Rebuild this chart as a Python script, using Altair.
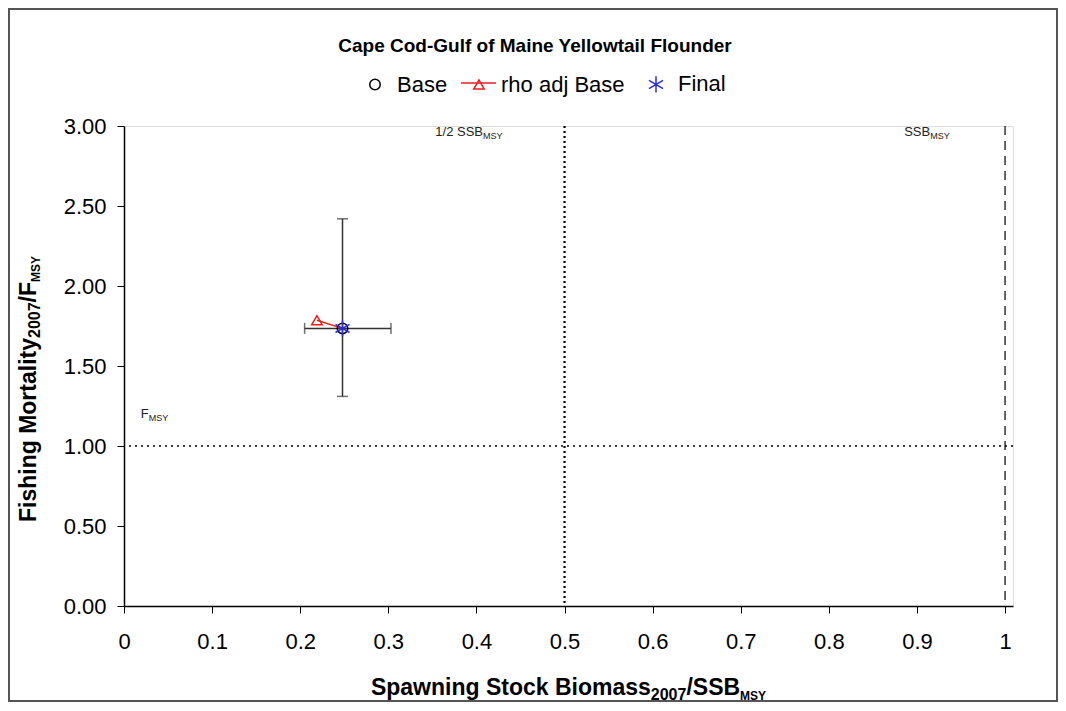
import altair as alt
import pandas as pd

FONT = "Liberation Sans"

# ---------------- data ----------------
TITLE = "Cape Cod-Gulf of Maine Yellowtail Flounder"
series = ["Base", "rho adj Base", "Final"]
pt_x = [0.248, 0.219, 0.248]
pt_y = [1.735, 1.786, 1.735]
colors = ["#000000", "#ee1c1c", "#2a2ae0"]
ASTERISK = "M0,-1.55L0,1.55M-1.34,-0.78L1.34,0.78M-1.34,0.78L1.34,-0.78"
shapes = ["circle", "triangle-up", ASTERISK]

rho_line_x = [0.219, 0.248]
rho_line_y = [1.786, 1.735]

err_x_lo, err_x_hi = 0.205, 0.303     # SSB ratio interval
err_y_lo, err_y_hi = 1.31, 2.42       # F ratio interval

half_ssb_msy = 0.5
ssb_msy = 1.0
f_msy = 1.0

x_ticks = [0, 0.1, 0.2, 0.3, 0.4, 0.5, 0.6, 0.7, 0.8, 0.9, 1.0]
y_ticks = [0.0, 0.5, 1.0, 1.5, 2.0, 2.5, 3.0]

ref_main = ["1/2 SSB", "SSB", "F"]
ref_sub = ["MSY", "MSY", "MSY"]
ref_x = [0.4075, 0.915, 0.028]
ref_y = [2.94, 2.94, 1.175]

x_title = ["Spawning Stock Biomass", "2007", "/SSB", "MSY"]
y_title = ["Fishing Mortality", "2007", "/F", "MSY"]

# ---------------- layout ----------------
W, H = 889, 480
xs = alt.Scale(domain=[0, 1.009], nice=False, zero=False)
ys = alt.Scale(domain=[0, 3], nice=False, zero=False)

pts = pd.DataFrame({"x": pt_x, "y": pt_y, "s": series})
one = pd.DataFrame({"a": [0]})

# approximate Arial/Liberation Sans Bold advance widths (per 1000 em)
BW = {"S": 667, "p": 611, "a": 556, "w": 778, "n": 611, "i": 278, "g": 611, " ": 278,
      "t": 333, "o": 611, "c": 556, "k": 556, "B": 722, "m": 889, "s": 556, "/": 278,
      "F": 611, "h": 611, "M": 833, "r": 389, "l": 278, "y": 556, "Y": 667,
      "0": 556, "2": 556, "7": 556}


def bw(s, size):
    return sum(BW.get(ch, 600) for ch in s) * size / 1000.0


def txt(s, x, y, size, bold=False, align="left", angle=0, color="black"):
    kw = dict(text=s, font=FONT, fontSize=size, align=align,
              baseline="alphabetic", color=color,
              fontWeight="bold" if bold else "normal")
    if angle:
        kw["angle"] = angle
    return alt.Chart(one).mark_text(**kw).encode(x=alt.value(x), y=alt.value(y))


border = alt.Chart(one).mark_rect(fillOpacity=0, stroke="#555555", strokeWidth=2).encode(
    x=alt.value(-115), x2=alt.value(933), y=alt.value(-117), y2=alt.value(575))

xaxis = alt.Axis(values=x_ticks, format="~g", title=None, grid=False,
                 labelFontSize=22, labelFont=FONT, labelColor="black",
                 labelPadding=18, tickSize=7, tickColor="black",
                 domainColor="black", domainWidth=1.5, labelFlush=False)
yaxis = alt.Axis(values=y_ticks, format=".2f", title=None, grid=False,
                 labelFontSize=22, labelFont=FONT, labelColor="black",
                 labelPadding=11, tickSize=7, tickColor="black",
                 domainColor="black", domainWidth=1.5, labelFlush=False)

base = alt.Chart(pts).encode(
    x=alt.X("x:Q", scale=xs, axis=xaxis),
    y=alt.Y("y:Q", scale=ys, axis=yaxis),
)

vline_half = alt.Chart(pd.DataFrame({"x": [half_ssb_msy]})).mark_rule(
    color="black", strokeWidth=2.2, strokeDash=[2, 3]).encode(x=alt.X("x:Q", scale=xs))
vline_ssb = alt.Chart(pd.DataFrame({"x": [ssb_msy]})).mark_rule(
    color="#333333", strokeWidth=1.5, strokeDash=[9, 6]).encode(x=alt.X("x:Q", scale=xs))
hline_f = alt.Chart(pd.DataFrame({"y": [f_msy]})).mark_rule(
    color="black", strokeWidth=1.5, strokeDash=[2, 4]).encode(y=alt.Y("y:Q", scale=ys))

err_h = alt.Chart(pd.DataFrame({"x": [err_x_lo], "x2": [err_x_hi], "y": [pt_y[0]]})).mark_rule(
    color="#333333", strokeWidth=1.5).encode(
    x=alt.X("x:Q", scale=xs), x2="x2:Q", y=alt.Y("y:Q", scale=ys))
err_v = alt.Chart(pd.DataFrame({"x": [pt_x[0]], "y": [err_y_lo], "y2": [err_y_hi]})).mark_rule(
    color="#333333", strokeWidth=1.5).encode(
    x=alt.X("x:Q", scale=xs), y=alt.Y("y:Q", scale=ys), y2="y2:Q")
cap_h = alt.Chart(pd.DataFrame({"x": [err_x_lo, err_x_hi], "y": [pt_y[0]] * 2})).mark_tick(
    orient="vertical", color="#333333", size=11, thickness=1.5).encode(
    x=alt.X("x:Q", scale=xs), y=alt.Y("y:Q", scale=ys))
cap_v = alt.Chart(pd.DataFrame({"x": [pt_x[0]] * 2, "y": [err_y_lo, err_y_hi]})).mark_tick(
    orient="horizontal", color="#333333", size=11, thickness=1.5).encode(
    x=alt.X("x:Q", scale=xs), y=alt.Y("y:Q", scale=ys))

rho_line = alt.Chart(pd.DataFrame({"x": rho_line_x, "y": rho_line_y})).mark_line(
    color=colors[1], strokeWidth=1.5).encode(
    x=alt.X("x:Q", scale=xs), y=alt.Y("y:Q", scale=ys))

leg = alt.Legend(orient="none", legendX=240, legendY=-53, direction="horizontal",
                 title=None, labelFont=FONT, labelFontSize=22, labelColor="black",
                 symbolSize=110, symbolStrokeWidth=1.5, columnPadding=20,
                 labelOffset=11, padding=0, symbolFillColor="transparent")

points = base.mark_point(filled=False, size=110, strokeWidth=1.5, opacity=1).encode(
    color=alt.Color("s:N", scale=alt.Scale(domain=series, range=colors), legend=leg),
    shape=alt.Shape("s:N", scale=alt.Scale(domain=series, range=shapes), legend=leg),
    order=alt.Order("o:Q"),
).transform_calculate(o="indexof(['Base','rho adj Base','Final'], datum.s)")

legend_line = alt.Chart(one).mark_rule(color=colors[1], strokeWidth=1.5).encode(
    x=alt.value(337), x2=alt.value(372), y=alt.value(-43))

refs = pd.DataFrame({"x": ref_x, "y": ref_y, "m": ref_main, "sub": ref_sub})
ref_main_txt = alt.Chart(refs).mark_text(
    font=FONT, fontSize=13, align="right", baseline="alphabetic", color="#222222").encode(
    x=alt.X("x:Q", scale=xs), y=alt.Y("y:Q", scale=ys), text="m:N")
ref_sub_txt = alt.Chart(refs).mark_text(
    font=FONT, fontSize=9, align="left", baseline="alphabetic", color="#222222", dy=3).encode(
    x=alt.X("x:Q", scale=xs), y=alt.Y("y:Q", scale=ys), text="sub:N")

# x title pieces, chained and centred on the plot
XS = [23, 16, 23, 12]
xw = [bw(s, z) for s, z in zip(x_title, XS)]
x0 = W / 2 - sum(xw) / 2
xb = [x0 + sum(xw[:i]) for i in range(4)]
# y title pieces, chained (reading upward), centred slightly below plot centre
YS = [23, 16, 23, 12]
yw = [bw(s, z) for s, z in zip(y_title, YS)]
y0 = 263 + sum(yw) / 2
yb = [y0 - sum(yw[:i]) for i in range(4)]

texts = [
    txt(TITLE, 411, -74, 19, bold=True, align="center"),
    txt(x_title[0], xb[0], 569, XS[0], bold=True),
    txt(x_title[1], xb[1], 574, XS[1], bold=True),
    txt(x_title[2], xb[2], 569, XS[2], bold=True),
    txt(x_title[3], xb[3], 574, XS[3], bold=True),
    txt(y_title[0], -88, yb[0], YS[0], bold=True, angle=270),
    txt(y_title[1], -84, yb[1], YS[1], bold=True, angle=270),
    txt(y_title[2], -88, yb[2], YS[2], bold=True, angle=270),
    txt(y_title[3], -84, yb[3], YS[3], bold=True, angle=270),
]

chart = alt.layer(
    border, vline_half, vline_ssb, hline_f, err_h, err_v, cap_h, cap_v,
    rho_line, points, legend_line, ref_main_txt, ref_sub_txt, *texts
).properties(
    width=W, height=H,
    autosize=alt.AutoSizeParams(type="none"),
    padding={"left": 116, "top": 118, "right": 45, "bottom": 97},
).configure_view(stroke=None).configure(background="white")

chart.save("out.html", embed_options={"renderer": "svg", "actions": False})
